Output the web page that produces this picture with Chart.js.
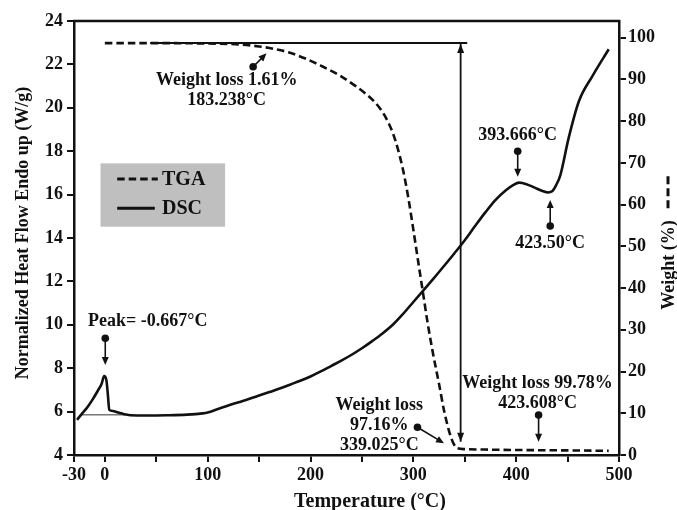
<!DOCTYPE html>
<html><head><meta charset="utf-8">
<script src="https://cdn.jsdelivr.net/npm/chart.js@4/dist/chart.umd.min.js"></script>
<style>html,body{margin:0;padding:0;background:#fff}#wrap{width:677px;height:510px}</style>
</head><body><div id="wrap"><canvas id="c" width="677" height="510"></canvas></div>
<script>
// ---- data ----
const dscTemp = [-27, -22, -17, -12, -7, -3, -0.7, 1.5, 3, 4.3, 8, 12, 16, 20, 25, 40, 60, 80, 95, 100, 110, 120, 130, 140, 150, 160, 170, 180, 190, 200, 210, 220, 230, 240, 250, 260, 270, 280, 290, 300, 310, 320, 330, 340, 350, 360, 370, 380, 390, 397, 403, 410, 418, 425, 431, 435, 439, 443, 451, 461, 474, 490];
const dscFlow = [5.62, 5.92, 6.2, 6.55, 6.95, 7.3, 7.64, 7.45, 6.75, 6.08, 6.03, 5.97, 5.92, 5.87, 5.83, 5.82, 5.83, 5.86, 5.92, 5.96, 6.12, 6.28, 6.43, 6.58, 6.74, 6.9, 7.06, 7.24, 7.42, 7.62, 7.85, 8.1, 8.35, 8.62, 8.92, 9.25, 9.6, 10.0, 10.5, 11.05, 11.6, 12.15, 12.72, 13.3, 13.9, 14.55, 15.18, 15.76, 16.2, 16.44, 16.55, 16.48, 16.32, 16.18, 16.1, 16.15, 16.45, 16.9, 18.6, 20.3, 21.45, 22.7];
const tgaTemp = [0, 50, 100, 130, 150, 165, 180, 195, 210, 228, 244, 255, 262, 268, 274, 280, 285, 290, 295, 300, 304, 309, 314, 319, 325, 330, 335, 339, 343, 350, 370, 400, 450, 490];
const tgaWeight = [98.7, 98.7, 98.6, 98.4, 97.9, 97.3, 96.4, 95.0, 93.3, 91.0, 88.4, 86.3, 84.7, 82.9, 80.5, 77.2, 73.3, 68.3, 61.8, 54.0, 47.5, 39.5, 31.5, 24.5, 17.0, 10.5, 5.5, 2.8, 1.6, 1.4, 1.3, 1.2, 1.1, 1.0];
const peakBaseTemp = [-23, 19.5];
const peakBaseFlow = [5.85, 5.85];
const refLineTemp = [44, 352.4];
const refLineWeight = [98.7, 98.7];
const lossArrowTemp = [346, 346];
const lossArrowWeight = [98.7, 3.2];
const xTickValues = [-30, 0, 50, 100, 150, 200, 250, 300, 350, 400, 450, 500];
const xLabelled = [-30, 0, 100, 200, 300, 400, 500];
const flowTicks = [4, 6, 8, 10, 12, 14, 16, 18, 20, 22, 24];
const weightTicks = [0, 10, 20, 30, 40, 50, 60, 70, 80, 90, 100];
const seriesNames = ['TGA', 'DSC'];

// annotation pointers (data coords on x / left axis)
const pointers = [
  {from: [144.2, 21.89], to: [157.2, 22.51]},
  {from: [0.4, 9.38], to: [0.4, 8.15]},
  {from: [401.5, 18.0], to: [401.5, 16.82]},
  {from: [433.1, 14.55], to: [433.1, 15.75]},
  {from: [421.8, 5.84], to: [421.8, 4.61]},
  {from: [304, 5.28], to: [329.8, 4.54]}
];
const labels = [
  {at: [118.5, 21.28], lines: ['Weight loss 1.61%', '183.238°C']},
  {at: [41.8, 10.14], lines: ['Peak= -0.667°C']},
  {at: [401.5, 18.75], lines: ['393.666°C']},
  {at: [433.1, 13.77], lines: ['423.50°C']},
  {at: [420.8, 7.3], lines: ['Weight loss 99.78%', '423.608°C']},
  {at: [266.9, 6.3], lines: ['Weight loss', '97.16%', '339.025°C']}
];

const FONT = '"Liberation Serif", "Times New Roman", serif';
const pts = (xs, ys) => xs.map((x, i) => ({x, y: ys[i]}));

function arrowHead(ctx, x1, y1, x2, y2, len, half) {
  const a = Math.atan2(y2 - y1, x2 - x1);
  ctx.beginPath();
  ctx.moveTo(x2, y2);
  ctx.lineTo(x2 - len * Math.cos(a) + half * Math.sin(a), y2 - len * Math.sin(a) - half * Math.cos(a));
  ctx.lineTo(x2 - len * Math.cos(a) - half * Math.sin(a), y2 - len * Math.sin(a) + half * Math.cos(a));
  ctx.closePath();
  ctx.fill();
}

const decor = {
  id: 'decor',
  afterDatasetsDraw(chart) {
    const {ctx, chartArea: ca, scales: {x, y, y2}} = chart;
    ctx.save();
    ctx.fillStyle = '#111';
    ctx.strokeStyle = '#111';
    // top border
    ctx.lineWidth = 2.5;
    ctx.beginPath();
    ctx.moveTo(ca.left - 1, ca.top);
    ctx.lineTo(ca.right + 1, ca.top);
    ctx.stroke();
    // arrowheads of the weight-loss double arrow
    const ax = x.getPixelForValue(lossArrowTemp[0]);
    const aTop = y2.getPixelForValue(lossArrowWeight[0]);
    const aBot = y2.getPixelForValue(lossArrowWeight[1]);
    arrowHead(ctx, ax, aTop + 20, ax, aTop + 1, 9, 3.5);
    arrowHead(ctx, ax, aBot - 20, ax, aBot, 9, 3.5);
    // pointers
    pointers.forEach(p => {
      const fx = x.getPixelForValue(p.from[0]), fy = y.getPixelForValue(p.from[1]);
      const tx = x.getPixelForValue(p.to[0]), ty = y.getPixelForValue(p.to[1]);
      ctx.lineWidth = 1.6;
      const a = Math.atan2(ty - fy, tx - fx);
      ctx.beginPath();
      ctx.moveTo(fx, fy);
      ctx.lineTo(tx - 6 * Math.cos(a), ty - 6 * Math.sin(a));
      ctx.stroke();
      arrowHead(ctx, fx, fy, tx, ty, 8, 3.5);
      ctx.beginPath();
      ctx.arc(fx, fy, 3.8, 0, Math.PI * 2);
      ctx.fill();
    });
    // labels
    ctx.font = 'bold 18px ' + FONT;
    ctx.textAlign = 'center';
    ctx.textBaseline = 'middle';
    labels.forEach(l => {
      const lx = x.getPixelForValue(l.at[0]);
      let ly = y.getPixelForValue(l.at[1]);
      l.lines.forEach((t, i) => ctx.fillText(t, lx, ly + i * 20));
    });
    // legend box
    const bx1 = x.getPixelForValue(-4.2), bx2 = x.getPixelForValue(116.9);
    const by1 = y.getPixelForValue(17.44), by2 = y.getPixelForValue(14.52);
    ctx.fillStyle = '#bfbfbf';
    ctx.fillRect(bx1, by1, bx2 - bx1, by2 - by1);
    ctx.fillStyle = '#111';
    const lx1 = x.getPixelForValue(12), lx2 = x.getPixelForValue(51.5), ltx = x.getPixelForValue(55.6);
    const rows = [y.getPixelForValue(16.72), y.getPixelForValue(15.37)];
    ctx.lineWidth = 2.8;
    ctx.setLineDash([7.5, 4]);
    ctx.beginPath(); ctx.moveTo(lx1, rows[0]); ctx.lineTo(lx2, rows[0]); ctx.stroke();
    ctx.setLineDash([]);
    ctx.beginPath(); ctx.moveTo(lx1, rows[1]); ctx.lineTo(lx2 - 3, rows[1]); ctx.stroke();
    ctx.font = 'bold 20px ' + FONT;
    ctx.textAlign = 'left';
    ctx.fillText(seriesNames[0], ltx, rows[0] + 1);
    ctx.fillText(seriesNames[1], ltx, rows[1] + 1);
    ctx.restore();
  },
  afterDraw(chart) {
    const {ctx, chartArea: ca} = chart;
    ctx.save();
    ctx.fillStyle = '#111';
    ctx.strokeStyle = '#111';
    // left title
    ctx.font = 'bold 18px ' + FONT;
    ctx.textAlign = 'center';
    ctx.textBaseline = 'middle';
    ctx.save();
    ctx.translate(ca.left - 51, (ca.top + ca.bottom) / 2 - 5);
    ctx.rotate(-Math.PI / 2);
    ctx.fillText('Normalized Heat Flow Endo up (W/g)', 0, 0);
    ctx.restore();
    // right title (reads bottom to top) with TGA dash symbol
    ctx.save();
    ctx.translate(ca.right + 50, 265);
    ctx.rotate(-Math.PI / 2);
    const rt = 'Weight (%)';
    ctx.fillText(rt, 0, 0);
    const w = ctx.measureText(rt).width;
    ctx.lineWidth = 3;
    ctx.setLineDash([8, 4]);
    ctx.beginPath();
    ctx.moveTo(w / 2 + 12, -1);
    ctx.lineTo(w / 2 + 48, -1);
    ctx.stroke();
    ctx.restore();
    // bottom title
    ctx.font = 'bold 20px ' + FONT;
    ctx.textBaseline = 'alphabetic';
    ctx.fillText('Temperature (°C)', ca.left + 296, 507);
    ctx.restore();
  }
};

const tickFont = {family: FONT, size: 18, weight: 'bold'};
const axisCommon = {
  grid: {drawOnChartArea: false, drawTicks: true, tickLength: 7, color: '#111', lineWidth: 2},
  border: {display: true, color: '#111', width: 2.5}
};

new Chart(document.getElementById('c'), {
  type: 'line',
  data: {
    datasets: [
      {label: seriesNames[0], data: pts(tgaTemp, tgaWeight), yAxisID: 'y2', borderColor: '#111', borderWidth: 2.6, borderDash: [7.5, 4], cubicInterpolationMode: 'monotone', pointRadius: 0, fill: false},
      {label: seriesNames[1], data: pts(dscTemp, dscFlow), yAxisID: 'y', borderColor: '#111', borderWidth: 2.6, cubicInterpolationMode: 'monotone', pointRadius: 0, fill: false},
      {label: 'baseline', data: pts(peakBaseTemp, peakBaseFlow), yAxisID: 'y', borderColor: '#333', borderWidth: 1, pointRadius: 0},
      {label: 'ref', data: pts(refLineTemp, refLineWeight), yAxisID: 'y2', borderColor: '#111', borderWidth: 2, pointRadius: 0},
      {label: 'arrow', data: pts(lossArrowTemp, lossArrowWeight), yAxisID: 'y2', borderColor: '#111', borderWidth: 1.8, pointRadius: 0}
    ]
  },
  options: {
    responsive: false,
    animation: false,
    layout: {padding: {top: 21, left: 0, right: 0, bottom: 0}},
    plugins: {legend: {display: false}, tooltip: {enabled: false}},
    scales: {
      x: {
        type: 'linear', min: -30, max: 500,
        afterBuildTicks: s => { s.ticks = xTickValues.map(v => ({value: v})); },
        afterFit: s => { s.height = 55; },
        ticks: {autoSkip: false, maxRotation: 0, padding: 3, color: '#111', font: tickFont,
          callback: v => xLabelled.includes(v) ? String(v) : ''},
        ...axisCommon
      },
      y: {
        position: 'left', min: 4, max: 24,
        afterBuildTicks: s => { s.ticks = flowTicks.map(v => ({value: v})); },
        afterFit: s => { s.width = 74; },
        ticks: {padding: 4, color: '#111', font: tickFont},
        ...axisCommon
      },
      y2: {
        position: 'right', min: 0, max: 104,
        afterBuildTicks: s => { s.ticks = weightTicks.map(v => ({value: v})); },
        afterFit: s => { s.width = 58; },
        ticks: {padding: 2, color: '#111', font: tickFont},
        ...axisCommon
      }
    }
  },
  plugins: [decor]
});
</script>
</body></html>
